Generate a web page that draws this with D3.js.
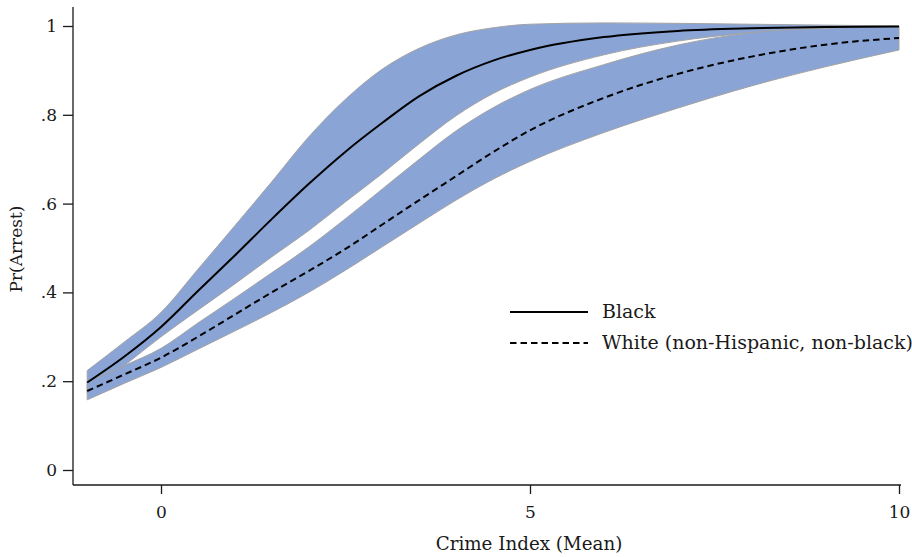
<!DOCTYPE html>
<html>
<head>
<meta charset="utf-8">
<script src="https://cdn.jsdelivr.net/npm/d3@7"></script>
<style>
  html, body { margin: 0; padding: 0; background: #fff; }
  svg { display: block; }
  text { font-family: "DejaVu Serif", serif; fill: #1a1a1a; }
</style>
</head>
<body>
<svg id="chart" width="912" height="557"></svg>
<script>
// Crime index values at which predicted probabilities were evaluated
const crimeIndex = [-1, -0.5, 0, 0.5, 1, 1.5, 2, 2.5, 3, 3.5, 4, 4.5, 5, 6, 7, 8, 9, 10];

// Black: predicted Pr(Arrest) with 95% confidence bounds
const blackFit   = [0.197, 0.255, 0.322, 0.403, 0.483, 0.565, 0.644, 0.717, 0.782, 0.842, 0.888, 0.922, 0.946, 0.975, 0.989, 0.995, 0.998, 0.999];
const blackUpper = [0.224, 0.288, 0.355, 0.452, 0.550, 0.649, 0.750, 0.835, 0.903, 0.950, 0.980, 0.996, 1.004, 1.007, 1.006, 1.004, 1.002, 1.000];
const blackLower = [0.172, 0.235, 0.300, 0.360, 0.419, 0.480, 0.539, 0.604, 0.668, 0.735, 0.798, 0.848, 0.885, 0.935, 0.966, 0.985, 0.995, 0.998];

// White (non-Hispanic, non-black): predicted Pr(Arrest) with 95% confidence bounds
const whiteFit   = [0.178, 0.215, 0.253, 0.300, 0.350, 0.400, 0.448, 0.498, 0.553, 0.608, 0.662, 0.716, 0.765, 0.838, 0.892, 0.931, 0.958, 0.973];
const whiteUpper = [0.198, 0.235, 0.274, 0.331, 0.387, 0.444, 0.502, 0.566, 0.633, 0.700, 0.764, 0.816, 0.857, 0.913, 0.957, 0.985, 0.995, 0.999];
const whiteLower = [0.158, 0.195, 0.231, 0.272, 0.313, 0.355, 0.400, 0.450, 0.503, 0.556, 0.608, 0.655, 0.695, 0.760, 0.815, 0.865, 0.908, 0.946];

// Axis ticks and labels
const xTicks = [0, 5, 10];
const yTicks = [0, 0.2, 0.4, 0.6, 0.8, 1];
const yTickLabels = ["0", ".2", ".4", ".6", ".8", "1"];

const legendLabels = ["Black", "White (non-Hispanic, non-black)"];

const svg = d3.select("#chart");

const x = d3.scaleLinear().domain([0, 10]).range([161, 899]);
const y = d3.scaleLinear().domain([0, 1]).range([470, 26]);

// Plot region frame (left and bottom axis lines)
const region = { left: 73, right: 901, top: 7, bottom: 485 };

const bandFill = "#8aa5d5";
const bandEdge = "#a3a3a3";

function rows(fit, lo, hi) {
  return crimeIndex.map((c, i) => ({ c, fit: fit[i], lo: lo[i], hi: hi[i] }));
}
const black = rows(blackFit, blackLower, blackUpper);
const white = rows(whiteFit, whiteLower, whiteUpper);

const curve = d3.curveMonotoneX;
const area = d3.area().x(d => x(d.c)).y0(d => y(d.lo)).y1(d => y(d.hi)).curve(curve);
const line = d3.line().x(d => x(d.c)).y(d => y(d.fit)).curve(curve);

const plot = svg.append("g");

// Confidence bands
[black, white].forEach(s => {
  plot.append("path")
    .datum(s)
    .attr("d", area)
    .attr("fill", bandFill)
    .attr("stroke", bandEdge)
    .attr("stroke-width", 1);
});

// Predicted probability curves
plot.append("path")
  .datum(black)
  .attr("d", line)
  .attr("fill", "none")
  .attr("stroke", "#000")
  .attr("stroke-width", 2);

plot.append("path")
  .datum(white)
  .attr("d", line)
  .attr("fill", "none")
  .attr("stroke", "#000")
  .attr("stroke-width", 2)
  .attr("stroke-dasharray", "6.5,4");

// Axes
const axisColor = "#1a1a1a";

const yAxis = svg.append("g")
  .attr("transform", `translate(${region.left},0)`)
  .call(d3.axisLeft(y).tickValues(yTicks).tickFormat((d, i) => yTickLabels[i]).tickSize(10).tickPadding(6));
yAxis.select(".domain").remove();
yAxis.selectAll(".tick line").attr("stroke", axisColor).attr("stroke-width", 1.3);
yAxis.selectAll(".tick text")
  .attr("font-family", "DejaVu Serif, serif")
  .attr("font-size", 17)
  .attr("fill", axisColor);

const xAxis = svg.append("g")
  .attr("transform", `translate(0,${region.bottom})`)
  .call(d3.axisBottom(x).tickValues(xTicks).tickFormat(d3.format("d")).tickSize(9).tickPadding(12));
xAxis.select(".domain").remove();
xAxis.selectAll(".tick line").attr("stroke", axisColor).attr("stroke-width", 1.3);
xAxis.selectAll(".tick text")
  .attr("font-family", "DejaVu Serif, serif")
  .attr("font-size", 17)
  .attr("fill", axisColor);

svg.append("line")
  .attr("x1", region.left).attr("x2", region.left)
  .attr("y1", region.top).attr("y2", region.bottom)
  .attr("stroke", axisColor).attr("stroke-width", 1.3);
svg.append("line")
  .attr("x1", region.left).attr("x2", region.right)
  .attr("y1", region.bottom).attr("y2", region.bottom)
  .attr("stroke", axisColor).attr("stroke-width", 1.3);

// Axis titles
svg.append("text")
  .attr("x", 529)
  .attr("y", 550)
  .attr("text-anchor", "middle")
  .attr("font-size", 18.3)
  .text("Crime Index (Mean)");

svg.append("text")
  .attr("transform", `translate(22,${(region.top + region.bottom) / 2 + 3}) rotate(-90)`)
  .attr("text-anchor", "middle")
  .attr("font-size", 17)
  .text("Pr(Arrest)");

// Legend
const legend = svg.append("g").attr("transform", "translate(510,312)");
legendLabels.forEach((label, i) => {
  const g = legend.append("g").attr("transform", `translate(0,${i * 31})`);
  g.append("line")
    .attr("x1", 0).attr("x2", 78)
    .attr("stroke", "#000")
    .attr("stroke-width", 2)
    .attr("stroke-dasharray", i === 0 ? null : "6.5,4");
  g.append("text")
    .attr("x", 92)
    .attr("y", 6)
    .attr("font-size", 19)
    .text(label);
});
</script>
</body>
</html>
